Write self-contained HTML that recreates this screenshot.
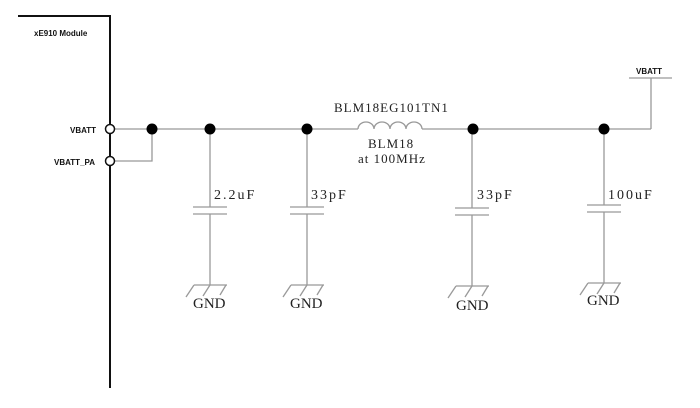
<!DOCTYPE html>
<html><head><style>
body{margin:0;background:#fff;}
svg{display:block}
.s{font-family:"Liberation Serif",serif;fill:#222}
.b{font-family:"Liberation Sans",sans-serif;font-weight:bold;font-size:8px;fill:#111}
</style></head><body>
<svg width="700" height="408" viewBox="0 0 700 408">
<g stroke="#111" stroke-width="2" fill="none">
<polyline points="18,16 110,16 110,388"/>
</g>
<g stroke="#999" stroke-width="1.3" fill="none">
<line x1="114" y1="129" x2="358" y2="129"/>
<line x1="422" y1="129" x2="651" y2="129"/>
<line x1="651" y1="129" x2="651" y2="78"/>
<line x1="629" y1="78" x2="672" y2="78"/>
<polyline points="114,161 152,161 152,129"/>
<path d="M358,129 a8,7 0 0 1 16,0 a8,7 0 0 1 16,0 a8,7 0 0 1 16,0 a8,7 0 0 1 16,0"/>
<g id="c1">
<line x1="210" y1="129" x2="210" y2="207"/><line x1="193" y1="207" x2="227" y2="207"/><line x1="193" y1="214" x2="227" y2="214"/><line x1="210" y1="214" x2="210" y2="285"/>
<line x1="194" y1="285" x2="227" y2="285"/><line x1="194" y1="285" x2="186" y2="297"/><line x1="210" y1="285" x2="203" y2="296"/><line x1="226" y1="285" x2="220" y2="295"/>
</g>
<use href="#c1" x="97"/>
<use href="#c1" x="262" y="1"/>
<use href="#c1" x="394" y="-2"/>
</g>
<g fill="#000">
<circle cx="152" cy="129" r="5.5"/><circle cx="210" cy="129" r="5.5"/><circle cx="307" cy="129" r="5.5"/><circle cx="473" cy="129" r="5.5"/><circle cx="604" cy="129" r="5.5"/>
</g>
<g fill="#fff" stroke="#111" stroke-width="1.5">
<circle cx="110" cy="129" r="4.5"/><circle cx="110" cy="161" r="4.5"/>
</g>
<text class="b" x="34" y="36">xE910 Module</text>
<text class="b" x="70" y="133">VBATT</text>
<text class="b" x="54" y="165">VBATT_PA</text>
<text class="b" x="636" y="74">VBATT</text>
<g class="s" font-size="13" letter-spacing="1">
<text x="334" y="112">BLM18EG101TN1</text>
<text x="368" y="148">BLM18</text>
<text x="358" y="163">at 100MHz</text>
</g>
<g class="s" font-size="14" letter-spacing="2">
<text x="214" y="199">2.2uF</text>
<text x="311" y="199">33pF</text>
<text x="477" y="199">33pF</text>
<text x="608" y="199">100uF</text>
</g>
<g class="s" font-size="15">
<text x="193" y="308">GND</text>
<text x="290" y="308">GND</text>
<text x="456" y="310">GND</text>
<text x="587" y="305">GND</text>
</g>
</svg>
</body></html>
